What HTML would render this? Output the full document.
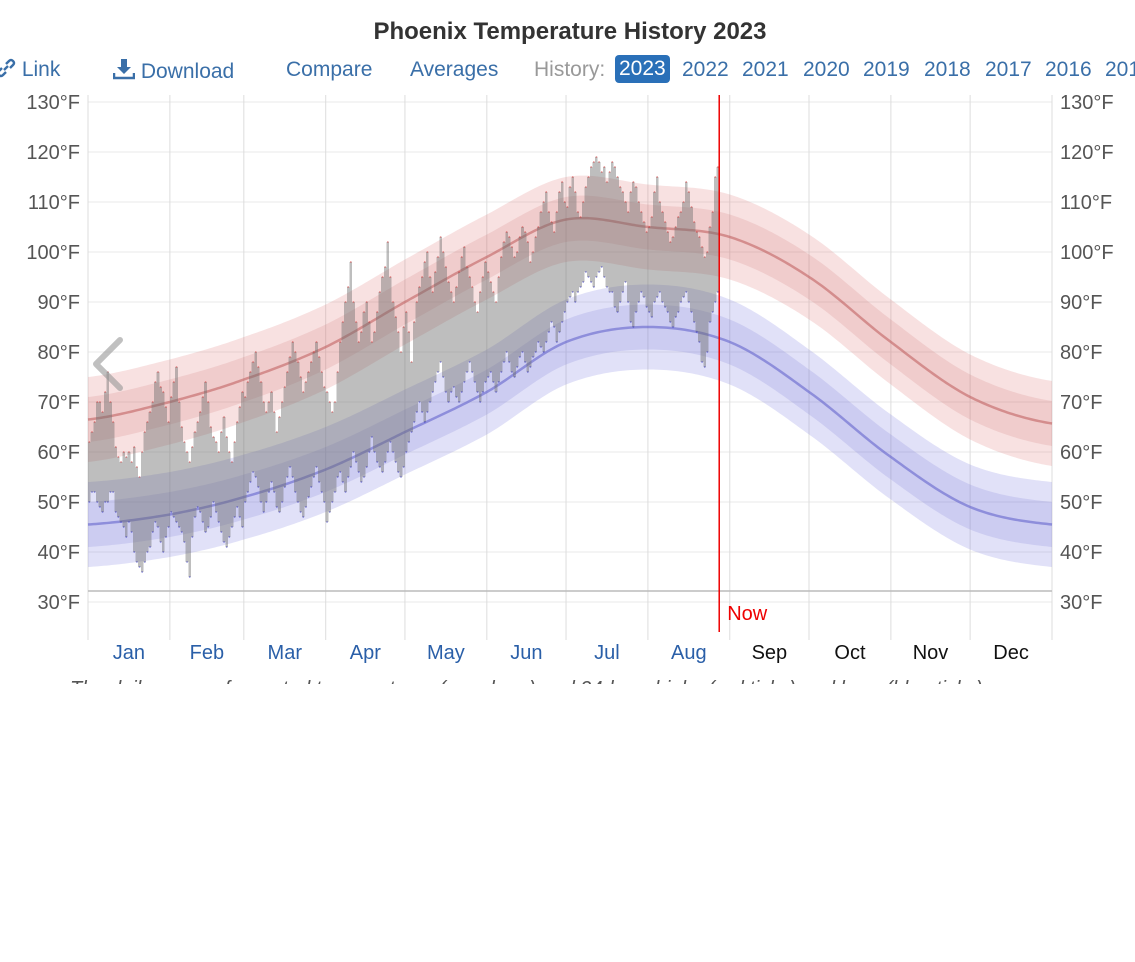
<!DOCTYPE html>
<html><head><meta charset="utf-8"><style>
body{margin:0;width:1135px;height:962px;background:#fff;overflow:hidden;font-family:"Liberation Sans",sans-serif;position:relative}
.t{position:absolute;white-space:nowrap}
.tb{position:absolute;top:58px;font-size:21px;color:#3a6fa8}
</style></head><body>
<div class="t" style="left:0;width:1140px;text-align:center;top:18px;font-size:24px;font-weight:bold;color:#333">Phoenix Temperature History 2023</div>
<div class="tb" style="left:-4px"><svg width="20" height="20" viewBox="0 0 20 20" style="vertical-align:-2px"><path d="M8 12 L12 8 M6 10 L3 13 Q1 15 3 17 Q5 19 7 17 L10 14 M14 10 L17 7 Q19 5 17 3 Q15 1 13 3 L10 6" fill="none" stroke="#3a6fa8" stroke-width="2.4"/></svg> Link</div>
<div class="tb" style="left:113px"><svg width="22" height="22" viewBox="0 0 22 22" style="vertical-align:-2px"><path d="M8 1h6v8h4l-7 7-7-7h4z" fill="#3a6fa8"/><path d="M1 15v5h20v-5" fill="none" stroke="#3a6fa8" stroke-width="2.5"/></svg> Download</div>
<div class="tb" style="left:286px">Compare</div>
<div class="tb" style="left:410px">Averages</div>
<div class="tb" style="left:534px;color:#999">History:</div>
<div class="tb" style="left:615px;top:55px;background:#2a70b8;color:#fff;padding:2px 4px;border-radius:4px">2023</div>
<div class="tb" style="left:682px">2022</div>
<div class="tb" style="left:742px">2021</div>
<div class="tb" style="left:803px">2020</div>
<div class="tb" style="left:863px">2019</div>
<div class="tb" style="left:924px">2018</div>
<div class="tb" style="left:985px">2017</div>
<div class="tb" style="left:1045px">2016</div>
<div class="tb" style="left:1105px">2015</div>
<div style="position:absolute;left:0;top:660px;width:1135px;height:24px;overflow:hidden">
<div class="t" style="left:70px;top:18px;font-size:20px;font-style:italic;color:#555">The daily range of reported temperatures (gray bars) and 24-hour highs (red ticks) and lows (blue ticks)</div></div>
<svg id="c" width="1135" height="700" style="position:absolute;left:0;top:0"></svg>
<script>
const months=["Jan","Feb","Mar","Apr","May","Jun","Jul","Aug","Sep","Oct","Nov","Dec"];
const monthStart=[0,31,59,90,120,151,181,212,243,273,304,334,365];
const yTicks=[30,40,50,60,70,80,90,100,110,120,130];
const normHigh=[66.5,70,74.5,81,90,99,106.5,105,103,95,82,71,65.7];
const normLow=[45.5,47.5,51,56.5,64,72,82,85,82,72,59,49,45.5];
const highs=[62,64,66,70,70,68,72,76,70,66,61,59,58,60,59,60,58,61,57,55,60,64,66,68,70,74,76,73,72,69,66,
71,74,77,70,65,62,60,58,61,64,66,68,71,74,70,65,63,62,60,64,67,63,60,58,62,66,69,72,
71,74,76,78,80,77,74,70,68,70,72,68,64,67,70,73,76,79,82,80,78,75,72,74,76,78,80,82,79,76,73,
72,70,68,70,76,82,86,90,93,98,90,86,82,84,88,90,86,82,84,88,92,95,97,102,95,90,87,84,80,85,
88,84,78,86,90,93,95,98,100,95,92,96,99,103,100,97,94,92,90,93,96,99,101,97,95,93,90,88,92,95,98,
96,94,92,90,95,99,102,104,103,101,99,100,103,105,104,102,98,100,103,105,108,110,112,108,106,104,108,112,114,110,
109,113,115,112,108,107,110,113,115,117,118,119,118,116,117,114,116,118,117,115,113,112,110,108,112,114,113,110,108,106,104,
105,107,112,115,110,108,106,104,102,103,105,107,108,110,114,112,109,106,104,103,101,99,100,105,108,115,117];
const lows=[50,52,52,50,49,48,50,50,52,52,48,47,46,45,43,46,44,40,38,37,36,38,40,41,44,46,45,42,40,43,45,
48,47,46,45,44,42,38,35,43,47,49,48,46,44,45,47,50,48,46,44,42,41,43,45,47,49,47,45,
50,52,54,56,55,53,50,48,50,52,54,52,49,48,50,53,55,57,55,52,50,48,47,49,51,53,55,57,54,52,50,
46,48,50,52,55,56,54,52,55,57,60,58,56,54,55,57,60,63,60,58,57,56,58,60,62,60,58,56,55,57,
60,62,64,66,68,70,68,66,68,70,72,74,76,78,75,72,70,72,73,71,70,72,74,76,78,76,74,72,70,72,74,
75,76,74,72,74,76,78,80,78,76,75,77,79,80,78,76,77,79,80,82,81,80,82,84,86,85,82,84,86,88,
90,91,92,90,92,93,94,96,95,94,93,95,96,97,95,93,92,92,89,88,90,92,94,90,86,85,88,90,92,91,89,
88,87,90,91,92,90,89,88,86,85,87,88,90,91,92,90,88,86,84,82,78,77,80,86,88,90,92];
const nowDay=239;
const X0=88,X1=1052,pxDay=(X1-X0)/365;
const x=d=>X0+d*pxDay, y=t=>352-(t-80)*5;
const svg=document.getElementById('c'),NS='http://www.w3.org/2000/svg';
function el(tag,a){const e=document.createElementNS(NS,tag);for(const k in a)e.setAttribute(k,a[k]);svg.appendChild(e);return e;}
yTicks.forEach(t=>{
 const g=el('line',{x1:X0,x2:X1,y1:y(t),y2:y(t),stroke:'#e8e8e8'});
 
 
 const l=el('text',{x:80,y:y(t)+7,'text-anchor':'end','font-size':20,fill:'#555'});l.textContent=t+'°F';
 
 
 const r=el('text',{x:1060,y:y(t)+7,'font-size':20,fill:'#555'});r.textContent=t+'°F';
 
 
});
monthStart.forEach((d,i)=>{
 const g=el('line',{x1:x(d),x2:x(d),y1:95,y2:640,stroke:'#ddd'});
 
 
 if(i<12){const m=el('text',{x:x((d+monthStart[i+1])/2),y:659,'text-anchor':'middle','font-size':20,fill:d<nowDay?'#2a5fa8':'#111'});m.textContent=months[i];
 
 }
});
const ax=el('line',{x1:X0,x2:X1,y1:591,y2:591,stroke:'#bbb','stroke-width':1.5});


function norm(arr,d){let i=0;while(i<11&&d>=monthStart[i+1])i++;
 const p0=arr[Math.max(i-1,0)],p1=arr[i],p2=arr[i+1],p3=arr[Math.min(i+2,12)];
 const t=(d-monthStart[i])/(monthStart[i+1]-monthStart[i]);
 return 0.5*((2*p1)+(-p0+p2)*t+(2*p0-5*p1+4*p2-p3)*t*t+(-p0+3*p1-3*p2+p3)*t*t*t);}
function band(arr,off,fill,name){let top=[],bot=[];for(let d=0;d<=365;d+=1){const v=norm(arr,d);top.push(x(d)+','+y(v+off));bot.unshift(x(d)+','+y(v-off));}
 const p=el('polygon',{points:top.concat(bot).join(' '),fill:fill});
 
 }
function line(arr,stroke,name){let pts=[];for(let d=0;d<=365;d++)pts.push(x(d)+','+y(norm(arr,d)));
 const p=el('polyline',{points:pts.join(' '),fill:'none',stroke:stroke,'stroke-width':2.5});
 
 }
band(normHigh,8.5,'rgba(225,120,120,0.22)','high-outer-band');
band(normHigh,4.5,'rgba(200,100,100,0.17)','high-inner-band');
band(normLow,8.5,'rgba(130,130,225,0.24)','low-outer-band');
band(normLow,4.5,'rgba(110,110,210,0.18)','low-inner-band');
line(normHigh,'rgba(190,90,90,0.55)','avg-high-line');
line(normLow,'rgba(100,100,205,0.6)','avg-low-line');
highs.forEach((h,d)=>{const l=lows[d];
 const b=el('rect',{x:x(d),y:y(h),width:pxDay,height:y(l)-y(h),fill:'rgba(110,110,110,0.45)','shape-rendering':'crispEdges'});
 
 
 const ht=el('rect',{x:x(d)+0.6,y:y(h)-0.5,width:1.5,height:1,fill:'rgba(210,50,50,0.8)'});
 
 
 const lt=el('rect',{x:x(d)+0.6,y:y(l)-0.5,width:1.5,height:1,fill:'rgba(50,50,190,0.8)'});
 
 
});
const nl=el('line',{x1:x(nowDay),x2:x(nowDay),y1:95,y2:632,stroke:'#e00','stroke-width':1.5});


const nt=el('text',{x:x(nowDay)+8,y:620,'font-size':20,fill:'#e00'});nt.textContent='Now';


const ar=el('polyline',{points:'120,340 96,364 120,388',fill:'none',stroke:'rgba(150,150,150,0.6)','stroke-width':6,'stroke-linecap':'round','stroke-linejoin':'round'});


</script>
</body></html>
